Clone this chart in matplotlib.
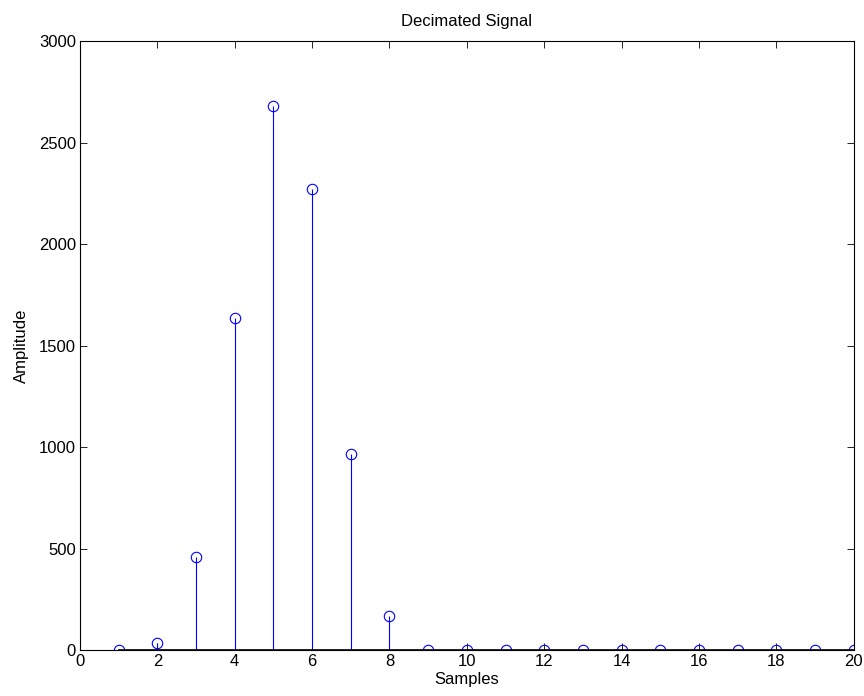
import numpy as np
import matplotlib
matplotlib.use('Agg')
import matplotlib.pyplot as plt

# 抽取後的訊號樣本
samples = np.arange(1, 21)
amplitude = [0, 36, 458, 1635, 2680, 2270, 968, 167,
             0, 0, 0, 0, 0, 0, 0, 0, 0, 0, 0, 0]

plt.rcParams['font.family'] = ['Liberation Sans', 'DejaVu Sans']
plt.rcParams['font.size'] = 12

fig = plt.figure(figsize=(8.64, 6.96), dpi=100)
ax = fig.add_axes([0.0926, 0.066, 0.8955, 0.875])

markerline, stemlines, baseline = ax.stem(samples, amplitude, basefmt='k-')
plt.setp(markerline, marker='o', markersize=7.5, markerfacecolor='none',
         markeredgecolor='#0000ff', markeredgewidth=0.8)
plt.setp(stemlines, color='#0000ff', linewidth=0.8)
plt.setp(baseline, linewidth=1.2)

ax.set_xlim(0, 20)
ax.set_ylim(0, 3000)
ax.set_xticks(range(0, 21, 2))
ax.set_yticks(range(0, 3001, 500))
ax.tick_params(direction='in', top=True, right=True, length=5, width=0.6,
               labelsize=12, pad=3)
for s in ax.spines.values():
    s.set_linewidth(0.8)

ax.set_title('Decimated Signal', fontsize=12, pad=11)
ax.set_xlabel('Samples', fontsize=12, labelpad=2)
ax.set_ylabel('Amplitude', fontsize=12, labelpad=7)

fig.savefig('out.png', dpi=100, facecolor='white')
